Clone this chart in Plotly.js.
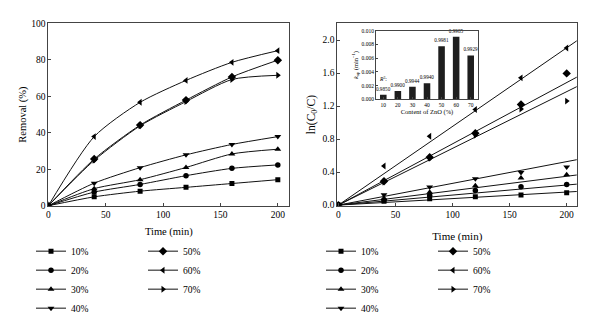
<!DOCTYPE html>
<html>
<head>
<meta charset="utf-8">
<script src="https://cdn.plot.ly/plotly-3.0.1.min.js"></script>
<style>html,body{margin:0;padding:0;background:#fff;}#chart{width:600px;height:323px;}</style>
</head>
<body>
<div id="chart"></div>
<script>
// ---- data ----
const seriesNames = ['10%', '20%', '30%', '40%', '50%', '60%', '70%'];
const timeMin = [0, 40, 80, 120, 160, 200];

// Removal (%) vs time
const removal10 = [0, 4.9, 8.0, 10.1, 12.2, 14.3];
const removal20 = [0, 7.5, 11.7, 16.5, 20.5, 22.4];
const removal30 = [0, 9.4, 14.3, 21.0, 28.4, 31.0];
const removal40 = [0, 12.4, 20.9, 27.9, 33.6, 37.9];
const removal50 = [0, 25.6, 44.2, 57.9, 70.6, 79.8];
const removal60 = [0, 37.9, 56.7, 68.7, 78.6, 85.0];
const removal70 = [0, 24.9, 43.8, 57.1, 69.2, 71.5];

// ln(C0/C) vs time
const lnC10 = [0, 0.046, 0.077, 0.100, 0.123, 0.149];
const lnC20 = [0, 0.062, 0.118, 0.176, 0.222, 0.249];
const lnC30 = [0, 0.080, 0.157, 0.234, 0.330, 0.368];
const lnC40 = [0, 0.126, 0.220, 0.318, 0.395, 0.463];
const lnC50 = [0, 0.290, 0.580, 0.870, 1.220, 1.596];
const lnC60 = [0, 0.473, 0.835, 1.158, 1.542, 1.904];
const lnC70 = [0, 0.280, 0.570, 0.846, 1.165, 1.260];

// linear fit lines (start, end)
const fitTime = [0, 208.8];
const fitEnd = [0.165, 0.254, 0.365, 0.550, 1.550, 1.990, 1.435];

// inset: apparent rate constants and R^2
const znoContent = ['10', '20', '30', '40', '50', '60', '70'];
const kApp = [0.00068, 0.00123, 0.00183, 0.00233, 0.00772, 0.00913, 0.00639];
const r2Labels = ['0.9850', '0.9900', '0.9944', '0.9940', '0.9981', '0.9985', '0.9929'];

// ---- styling ----
const symbols = ['square', 'circle', 'triangle-up', 'triangle-down', 'diamond', 'triangle-left', 'triangle-right'];
const sizes = [5, 5.5, 6, 6, 6.5, 6, 6];
const removalSets = [removal10, removal20, removal30, removal40, removal50, removal60, removal70];
const lnSets = [lnC10, lnC20, lnC30, lnC40, lnC50, lnC60, lnC70];
const FONT = 'Liberation Serif, Times New Roman, serif';

const traces = [];
// left chart
removalSets.forEach((ys, i) => {
  traces.push({
    type: 'scatter', mode: 'lines+markers', x: timeMin, y: ys,
    name: seriesNames[i], xaxis: 'x', yaxis: 'y',
    line: {color: '#111', width: 1, shape: 'spline', smoothing: 0.7},
    marker: {symbol: symbols[i], size: sizes[i], color: '#000'},
    legend: i < 4 ? 'legend' : 'legend2'
  });
});
// right chart: fit lines
fitEnd.forEach((e, i) => {
  traces.push({
    type: 'scatter', mode: 'lines', x: fitTime, y: [0, e],
    xaxis: 'x2', yaxis: 'y2', showlegend: false, hoverinfo: 'skip',
    line: {color: '#111', width: 1}
  });
});
// right chart: data points (gaps between points so no connecting line is drawn, legend keeps line key)
lnSets.forEach((ys, i) => {
  const gx = [], gy = [];
  timeMin.forEach((t, j) => { gx.push(t, t); gy.push(ys[j], null); });
  traces.push({
    type: 'scatter', mode: 'lines+markers', x: gx, y: gy, connectgaps: false,
    name: seriesNames[i], xaxis: 'x2', yaxis: 'y2',
    line: {color: '#111', width: 1},
    marker: {symbol: symbols[i], size: sizes[i], color: '#000'},
    legend: i < 4 ? 'legend3' : 'legend4'
  });
});
// inset bars
traces.push({
  type: 'bar', x: znoContent, y: kApp, xaxis: 'x3', yaxis: 'y3',
  text: r2Labels, textposition: 'outside', constraintext: 'none', cliponaxis: false,
  textfont: {family: FONT, size: 5.2, color: '#000'},
  marker: {color: '#1e1e1e'}, showlegend: false, hoverinfo: 'skip'
});

const W = 600, H = 323;
const px = v => v / W, py = v => 1 - v / H;

const baseAxis = {
  showline: true, mirror: true, linecolor: '#444', linewidth: 1,
  ticks: 'inside', ticklen: 3, tickcolor: '#444', showgrid: false, zeroline: false,
  tickfont: {family: FONT, size: 9.5, color: '#000'}
};
const legendBase = {
  font: {family: FONT, size: 9.5, color: '#000'}, bgcolor: 'rgba(0,0,0,0)',
  yanchor: 'top', xanchor: 'left', itemwidth: 30, tracegroupgap: 0,
  itemclick: false, itemdoubleclick: false
};

const layout = {
  width: W, height: H,
  margin: {l: 0, r: 0, t: 0, b: 0},
  paper_bgcolor: '#fff', plot_bgcolor: 'rgba(0,0,0,0)',
  font: {family: FONT, color: '#000'},
  bargap: 0.55,
  xaxis: Object.assign({}, baseAxis, {
    domain: [px(48.3), px(289.3)], range: [0, 210], tickvals: [0, 50, 100, 150, 200],
    anchor: 'y', title: {text: 'Time (min)', font: {family: FONT, size: 10.5}, standoff: 8}
  }),
  yaxis: Object.assign({}, baseAxis, {
    domain: [py(216.5), py(24.5)], range: [0, 100], dtick: 20,
    anchor: 'x', title: {text: 'Removal (%)', font: {family: FONT, size: 10.5}, standoff: 2}
  }),
  xaxis2: Object.assign({}, baseAxis, {
    domain: [px(337.3), px(577.3)], range: [-0.9, 209.3], tickvals: [0, 50, 100, 150, 200],
    anchor: 'y2', title: {text: 'Time (min)', font: {family: FONT, size: 11}, standoff: 13}
  }),
  yaxis2: Object.assign({}, baseAxis, {
    domain: [py(216.5), py(24.5)], range: [-0.008, 2.203], tickvals: [0, 0.4, 0.8, 1.2, 1.6, 2.0],
    tickformat: '.1f', anchor: 'x2',
    title: {text: 'ln(C<sub>0</sub>/C)', font: {family: FONT, size: 11.5}, standoff: 4}
  }),
  xaxis3: Object.assign({}, baseAxis, {
    domain: [px(376), px(478)], type: 'category', anchor: 'y3', ticklen: 2,
    tickfont: {family: FONT, size: 5.5, color: '#000'},
    title: {text: 'Content of ZnO (%)', font: {family: FONT, size: 6.5}, standoff: 2}
  }),
  yaxis3: Object.assign({}, baseAxis, {
    domain: [py(104.5), py(32.3)], range: [0, 0.010], dtick: 0.002, tickformat: '.3f',
    anchor: 'x3', ticklen: 2,
    tickfont: {family: FONT, size: 5.5, color: '#000'},
    title: {text: '<i>k</i><sub>ap</sub> (min<sup>−1</sup>)', font: {family: FONT, size: 6.5}, standoff: 2}
  }),
  legend: Object.assign({}, legendBase, {x: px(31), y: py(249)}),
  legend2: Object.assign({}, legendBase, {x: px(143), y: py(249)}),
  legend3: Object.assign({}, legendBase, {x: px(321), y: py(249)}),
  legend4: Object.assign({}, legendBase, {x: px(433), y: py(249)}),
  annotations: [{
    xref: 'x3', yref: 'y3', x: 0, y: 0.0022, xanchor: 'center', yanchor: 'bottom',
    text: '<i>R</i><sup>2</sup>:', showarrow: false,
    font: {family: FONT, size: 5.5, color: '#000'}
  }],
  showlegend: true
};

Plotly.newPlot('chart', traces, layout, {staticPlot: true, displayModeBar: false});
</script>
</body>
</html>
